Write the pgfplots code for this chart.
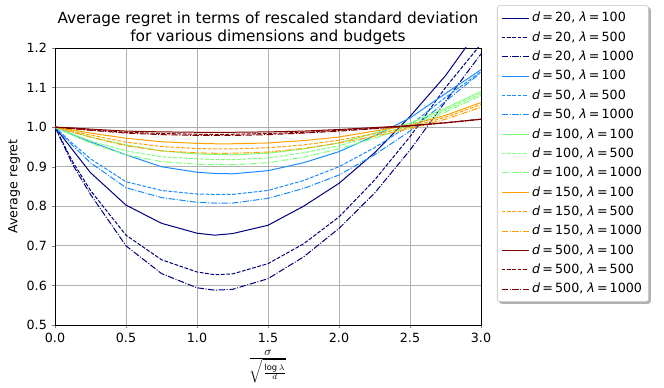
\documentclass[border=0pt]{standalone}
\usepackage{pgfplots}
\pgfplotsset{compat=1.18}
\usepackage{pgfplotstable}
\usepackage{fontspec}
\setmainfont{DejaVu Sans}
\usetikzlibrary{backgrounds}

\definecolor{cnavy}{RGB}{0,0,128}
\definecolor{cblue}{RGB}{25,140,255}
\definecolor{cgreen}{RGB}{125,255,122}
\definecolor{corange}{RGB}{255,160,0}
\definecolor{cred}{RGB}{128,0,0}

\tikzset{
  lam100/.style={solid},
  lam500/.style={dash pattern=on 2.8pt off 1.2pt},
  lam1000/.style={dash pattern=on 4.8pt off 1.2pt on 0.75pt off 1.2pt},
}
% dashed legend sample drawn as separate solid pieces
\pgfplotsset{
  dashlegend/.style={legend image code/.code={%
    \draw[##1,solid] (0pt,0pt)--(2.8pt,0pt) (4pt,0pt)--(6.8pt,0pt) (8pt,0pt)--(10.8pt,0pt)
      (12pt,0pt)--(14.8pt,0pt) (16pt,0pt)--(18.8pt,0pt);}},
}

% columns: x, then d=20,50,100,150,500 each with lambda=100,500,1000
\pgfplotstableread{
x     a1    a2    a3    b1    b2    b3    c1    c2    c3    e1    e2    e3    f1    f2    f3
0.0   1.000 1.000 1.000 1.000 1.000 1.000 1.000 1.000 1.000 1.000 1.000 1.000 1.000 1.000 1.000
0.125 0.942 0.912 0.905 0.981 0.958 0.953 0.988 0.982 0.979 0.993 0.990 0.987 0.998 0.997 0.996
0.25  0.885 0.840 0.830 0.963 0.920 0.910 0.975 0.965 0.960 0.985 0.980 0.975 0.995 0.993 0.992
0.5   0.803 0.727 0.700 0.930 0.862 0.847 0.955 0.940 0.930 0.972 0.962 0.953 0.990 0.987 0.985
0.75  0.757 0.665 0.630 0.900 0.840 0.822 0.940 0.925 0.913 0.963 0.951 0.940 0.988 0.984 0.981
1.0   0.732 0.634 0.594 0.886 0.831 0.810 0.932 0.920 0.906 0.959 0.946 0.935 0.987 0.982 0.979
1.125 0.727 0.627 0.588 0.883 0.830 0.808 0.931 0.918 0.905 0.958 0.945 0.934 0.987 0.982 0.979
1.25  0.731 0.629 0.590 0.882 0.830 0.808 0.930 0.918 0.905 0.958 0.945 0.934 0.987 0.982 0.979
1.5   0.752 0.655 0.617 0.890 0.840 0.820 0.934 0.922 0.910 0.960 0.948 0.937 0.988 0.984 0.981
1.75  0.800 0.705 0.672 0.910 0.865 0.845 0.945 0.935 0.924 0.966 0.955 0.946 0.990 0.987 0.985
2.0   0.858 0.773 0.744 0.938 0.900 0.879 0.960 0.953 0.945 0.975 0.967 0.960 0.994 0.992 0.990
2.25  0.935 0.866 0.833 0.978 0.948 0.930 0.985 0.978 0.972 0.990 0.983 0.977 0.999 0.997 0.996
2.5   1.027 0.976 0.942 1.023 1.005 0.990 1.010 1.005 1.000 1.005 1.000 0.996 1.004 1.003 1.003
2.75  1.130 1.100 1.065 1.085 1.075 1.065 1.048 1.043 1.038 1.030 1.025 1.020 1.011 1.011 1.011
3.0   1.255 1.210 1.185 1.145 1.140 1.138 1.090 1.085 1.080 1.062 1.057 1.050 1.020 1.020 1.020
}\regret

\begin{document}
\begin{tikzpicture}
% page frame in the reference's proportions
\path (-41.25pt,-47.25pt) rectangle (456.75pt,243.75pt);
\begin{axis}[
    at={(0,0)}, anchor=south west,
    scale only axis,
    width=319.5pt, height=207.75pt,
    xmin=0, xmax=3, ymin=0.5, ymax=1.2,
    xtick={0,0.5,...,3}, ytick={0.5,0.6,...,1.21},
    /pgf/number format/.cd, fixed, fixed zerofill, precision=1, assume math mode=true,
    /pgfplots/.cd,
    tick label style={font=\fontsize{9.5}{11}\selectfont},
    tick align=outside, xtick pos=bottom, ytick pos=left,
    major tick length=2.6pt,
    grid=major, grid style={color=black!31,line width=0.6pt},
    axis line style={line width=0.6pt},
    title={Average regret in terms of rescaled standard deviation\\for various dimensions and budgets},
    title style={align=center,font=\fontsize{11.5}{13.8}\selectfont,yshift=-7pt},
    ylabel={Average regret},
    ylabel style={font=\fontsize{9.5}{11}\selectfont,
        at={(axis description cs:-0.0962,0.5)},anchor=center},
    xlabel={$\frac{\sigma}{\sqrt{\frac{\log\lambda}{d}}}$},
    xlabel style={font=\fontsize{12.5}{14}\selectfont,yshift=1pt},
    every axis plot/.append style={line width=0.75pt},
    legend cell align=left,
    legend style={name=leg, at={(1,1)},anchor=north west,xshift=12pt,yshift=32pt,
        draw=black!25, rounded corners=2pt, fill=white,
        font=\fontsize{9.5}{11}\selectfont, row sep=1.8pt,
        inner xsep=3pt, inner ysep=3pt},
    legend image code/.code={\draw[#1] (0cm,0cm) -- (0.72cm,0cm);},
]
\addplot[draw=cnavy,lam100] table[x=x,y=a1] {\regret};
\addlegendentry{\textit{d}\,=\,20, \textit{λ}\,=\,100}
\addplot[draw=cnavy,lam500,dashlegend] table[x=x,y=a2] {\regret};
\addlegendentry{\textit{d}\,=\,20, \textit{λ}\,=\,500}
\addplot[draw=cnavy,lam1000] table[x=x,y=a3] {\regret};
\addlegendentry{\textit{d}\,=\,20, \textit{λ}\,=\,1000}
\addplot[draw=cblue,lam100] table[x=x,y=b1] {\regret};
\addlegendentry{\textit{d}\,=\,50, \textit{λ}\,=\,100}
\addplot[draw=cblue,lam500,dashlegend] table[x=x,y=b2] {\regret};
\addlegendentry{\textit{d}\,=\,50, \textit{λ}\,=\,500}
\addplot[draw=cblue,lam1000] table[x=x,y=b3] {\regret};
\addlegendentry{\textit{d}\,=\,50, \textit{λ}\,=\,1000}
\addplot[draw=cgreen,lam100] table[x=x,y=c1] {\regret};
\addlegendentry{\textit{d}\,=\,100, \textit{λ}\,=\,100}
\addplot[draw=cgreen,lam500,dashlegend] table[x=x,y=c2] {\regret};
\addlegendentry{\textit{d}\,=\,100, \textit{λ}\,=\,500}
\addplot[draw=cgreen,lam1000] table[x=x,y=c3] {\regret};
\addlegendentry{\textit{d}\,=\,100, \textit{λ}\,=\,1000}
\addplot[draw=corange,lam100] table[x=x,y=e1] {\regret};
\addlegendentry{\textit{d}\,=\,150, \textit{λ}\,=\,100}
\addplot[draw=corange,lam500,dashlegend] table[x=x,y=e2] {\regret};
\addlegendentry{\textit{d}\,=\,150, \textit{λ}\,=\,500}
\addplot[draw=corange,lam1000] table[x=x,y=e3] {\regret};
\addlegendentry{\textit{d}\,=\,150, \textit{λ}\,=\,1000}
\addplot[draw=cred,lam100] table[x=x,y=f1] {\regret};
\addlegendentry{\textit{d}\,=\,500, \textit{λ}\,=\,100}
\addplot[draw=cred,lam500,dashlegend] table[x=x,y=f2] {\regret};
\addlegendentry{\textit{d}\,=\,500, \textit{λ}\,=\,500}
\addplot[draw=cred,lam1000] table[x=x,y=f3] {\regret};
\addlegendentry{\textit{d}\,=\,500, \textit{λ}\,=\,1000}
\end{axis}
% legend shadow
\begin{scope}[on background layer]
  \fill[black!30,rounded corners=2pt] ([shift={(1.5pt,-1.5pt)}]leg.south west) rectangle ([shift={(1.5pt,-1.5pt)}]leg.north east);
\end{scope}
\end{tikzpicture}
\end{document}
